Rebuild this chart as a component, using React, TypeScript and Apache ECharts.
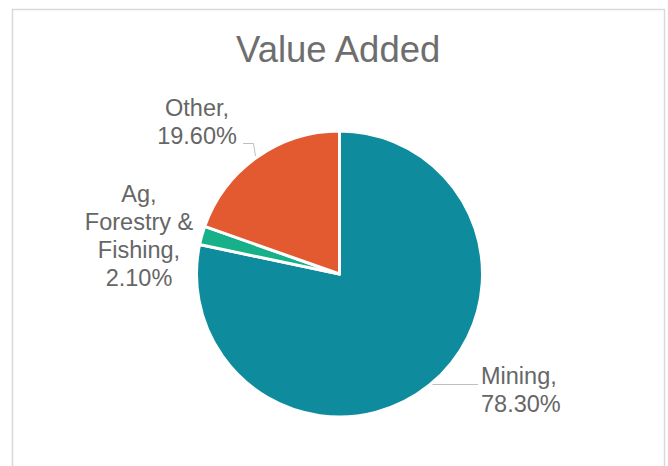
import React, { useEffect, useRef } from "react";
import * as echarts from "echarts";

const categories: string[] = ["Mining", "Ag,\nForestry &\nFishing", "Other"];
const values: number[] = [78.3, 2.1, 19.6];
const sliceColors: string[] = ["#0E8C9E", "#16B089", "#E35A31"];
const chartTitle = "Value Added";

// label placement (layout only)
const labelSpots: { x: number; y: number; align: string; line: number[][] | null }[] = [
  { x: 481, y: 390, align: "left", line: [[430, 384.5], [455, 384.5], [478, 384.5]] },
  { x: 139, y: 236, align: "center", line: null },
  { x: 197, y: 122, align: "center", line: [[255.5, 156], [253.5, 143.5], [243, 143.5]] },
];

const FONT = "'Liberation Sans', Arial, sans-serif";
const TEXT = "#666666";

export default function App() {
  const ref = useRef<HTMLDivElement>(null);
  useEffect(() => {
    if (!ref.current) return;
    const chart = echarts.init(ref.current, null, { renderer: "svg" });
    chart.setOption({
      animation: false,
      backgroundColor: "#ffffff",
      title: {
        text: chartTitle,
        left: 236,
        top: 31,
        padding: 0,
        textStyle: { fontFamily: FONT, fontSize: 36.5, fontWeight: "normal", color: "#6E6E6E" },
      },
      graphic: [
        {
          type: "rect",
          z: -10,
          shape: { x: 12.5, y: 9.5, width: 652, height: 500 },
          style: { fill: "none", stroke: "#D9D9D9", lineWidth: 1.5 },
        },
      ],
      series: [
        {
          type: "pie",
          center: [339.5, 274],
          radius: 143,
          startAngle: 90,
          clockwise: true,
          avoidLabelOverlap: false,
          itemStyle: { borderColor: "#ffffff", borderWidth: 3 },
          label: {
            show: true,
            position: "outside",
            fontFamily: FONT,
            fontSize: 23.5,
            lineHeight: 28,
            color: TEXT,
            formatter: (p: any) => `${p.name},\n${p.value.toFixed(2)}%`,
          },
          labelLine: { show: true, lineStyle: { color: "#BFBFBF", width: 1 } },
          labelLayout: (params: any) => {
            const s = labelSpots[params.dataIndex];
            const r: any = { x: s.x, y: s.y, align: s.align, verticalAlign: "middle" };
            if (s.line) r.labelLinePoints = s.line;
            return r;
          },
          emphasis: { disabled: true },
          data: categories.map((name, i) => ({
            name,
            value: values[i],
            itemStyle: { color: sliceColors[i] },
            labelLine: { show: labelSpots[i].line !== null },
          })),
        },
      ],
    });
    return () => chart.dispose();
  }, []);
  return (
    <div
      ref={ref}
      style={{ position: "fixed", left: 0, top: 0, width: 668, height: 466 }}
    />
  );
}
